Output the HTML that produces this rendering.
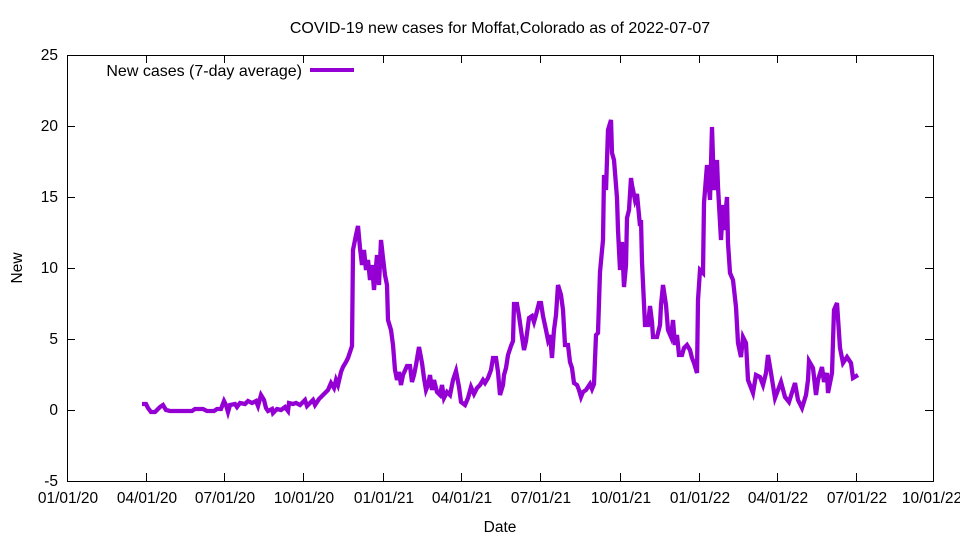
<!DOCTYPE html>
<html><head><meta charset="utf-8"><style>body{margin:0;background:#fff}svg{display:block;font-family:"Liberation Sans",sans-serif}</style></head><body>
<svg width="960" height="540" xmlns="http://www.w3.org/2000/svg">
<rect width="960" height="540" fill="#fff"/>
<text x="500" y="33" font-size="16" text-anchor="middle">COVID-19 new cases for Moffat,Colorado as of 2022-07-07</text>
<g stroke="#000" stroke-width="1">
<rect x="67.5" y="55.5" width="866" height="426" fill="none"/>
<path d="M67 481.5h8M67 410.5h8M67 339.5h8M67 268.5h8M67 197.5h8M67 126.5h8M67 55.5h8M933 481.5h-8M933 410.5h-8M933 339.5h-8M933 268.5h-8M933 197.5h-8M933 126.5h-8M933 55.5h-8"/>
<path d="M67.5 481v-8M146.5 481v-8M224.5 481v-8M303.5 481v-8M383.5 481v-8M461.5 481v-8M540.5 481v-8M620.5 481v-8M699.5 481v-8M777.5 481v-8M856.5 481v-8M933.5 481v-8M67.5 55v8M146.5 55v8M224.5 55v8M303.5 55v8M383.5 55v8M461.5 55v8M540.5 55v8M620.5 55v8M699.5 55v8M777.5 55v8M856.5 55v8"/>
</g>
<g font-size="15.5" text-anchor="end">
<text x="58" y="486">-5</text><text x="58" y="415">0</text><text x="58" y="344">5</text><text x="58" y="273">10</text><text x="58" y="202">15</text><text x="58" y="131">20</text><text x="58" y="60">25</text>
</g>
<g font-size="15.5" text-anchor="middle">
<text x="68" y="503">01/01/20</text><text x="147" y="503">04/01/20</text><text x="225" y="503">07/01/20</text><text x="304" y="503">10/01/20</text><text x="384" y="503">01/01/21</text><text x="462" y="503">04/01/21</text><text x="541" y="503">07/01/21</text><text x="621" y="503">10/01/21</text><text x="700" y="503">01/01/22</text><text x="778" y="503">04/01/22</text><text x="857" y="503">07/01/22</text><text x="932" y="503">10/01/22</text>
<text x="500" y="532">Date</text>
<text transform="translate(22,268) rotate(-90)">New</text>
</g>
<text x="302" y="76" font-size="16" text-anchor="end">New cases (7-day average)</text>
<path d="M310 70h44" stroke="#9400d3" stroke-width="4"/>
<polyline fill="none" stroke="#9400d3" stroke-width="4.3" stroke-linejoin="miter" points="142,404 146,404 148,408 151,412 155,412 160,407 163,405 166,410 170,411 192,411 195,409 203,409 207,411 214,411 217,409 221,409 224,401 226,405 228,412 230,405 235,404 237,407 240,403 245,404 248,401 252,403 256,401 258,406 261,395 264,400 266,408 268,411 272,409 273,413 277,409 281,410 285,407 288,411 289,403 293,404 296,403 300,405 305,400 307,406 313,400 315,405 319,399 322,396 325,393 328,390 331,383 334,388 336,380 338,385 341,372 343,367 346,362 348,358 352,346 353,250 356,235 358,226 360,248 362,265 364,250 366,270 368,260 370,280 372,265 374,290 377,255 379,285 381,240 383,258 385,275 387,285 388,320 391,330 393,345 395,370 397,380 399,372 401,385 403,375 407,366 410,366 412,382 414,375 416,365 419,347 422,363 424,378 426,390 428,385 430,375 432,390 434,380 437,392 440,395 442,385 444,398 447,392 450,395 453,380 456,371 459,387 461,402 465,405 468,398 471,387 474,394 477,388 480,385 483,380 485,383 488,378 491,370 493,358 496,358 498,372 500,395 503,385 504,375 506,368 508,355 511,346 513,341 514,304 517,304 519,316 521,330 524,350 526,341 529,318 532,316 534,322 536,315 539,303 541,303 543,316 546,330 548,340 550,335 552,358 554,330 556,315 558,285 561,295 563,310 565,345 568,345 570,362 572,368 574,383 577,385 579,390 581,397 583,392 586,390 590,384 592,389 594,384 596,335 598,333 600,272 603,240 604,175 606,190 608,130 611,120 612,153 614,160 617,198 618,230 620,270 622,242 624,287 626,265 627,218 629,210 631,178 632,185 635,200 637,194 640,226 641,220 642,262 645,325 648,325 650,306 652,322 653,337 657,337 660,325 661,305 663,285 666,305 668,330 671,337 673,320 675,345 677,335 679,355 682,355 684,348 687,345 690,350 692,358 694,363 697,373 698,300 700,270 703,273 704,203 707,165 710,200 712,127 714,190 717,160 718,187 721,240 723,205 724,230 727,197 728,243 730,273 733,280 736,307 738,343 741,357 743,337 746,343 748,380 753,393 756,375 760,377 763,385 766,373 768,355 771,373 775,398 778,390 781,382 785,397 789,402 795,383 798,400 802,408 806,395 808,380 809,361 813,368 816,395 818,380 822,367 824,382 827,373 828,393 832,373 834,310 837,303 840,348 843,363 847,357 851,363 853,378 858,375"/>
</svg>
</body></html>
